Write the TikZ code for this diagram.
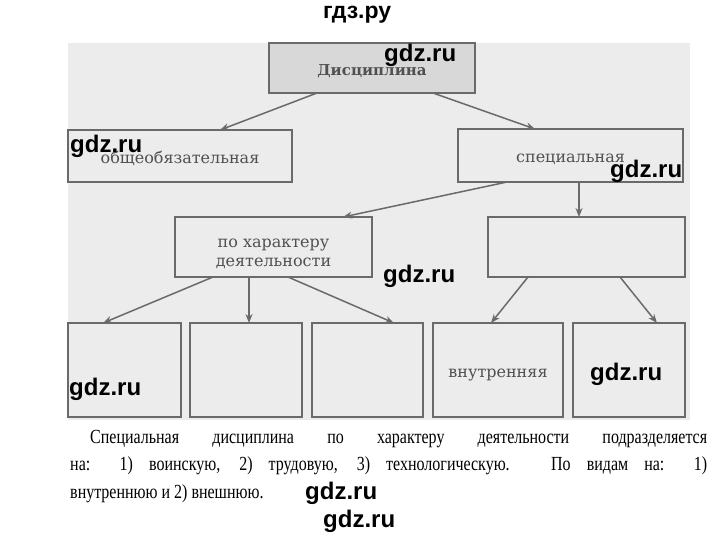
\documentclass[tikz,border=0pt]{standalone}
\usepackage{fontspec}
\setmainfont{Liberation Serif}
\newfontfamily\boxfont{DejaVu Serif}
\newfontfamily\markfont{Liberation Sans}
\newfontfamily\parafont[FakeStretch=0.8]{Liberation Serif}
\usetikzlibrary{arrows.meta,positioning}
\definecolor{panelgray}{HTML}{ECECEC}
\definecolor{headgray}{HTML}{D8D8D8}
\definecolor{linegray}{HTML}{6A6A6A}
\definecolor{labelgray}{HTML}{505050}

\begin{document}
\begin{tikzpicture}[
  x=1pt,y=-1pt,
  box/.style={draw=linegray,line width=1.6pt,inner sep=0pt,outer sep=0pt,align=center,
    text=labelgray,font=\boxfont\fontsize{16}{19}\selectfont},
  oneline/.style={text height=14pt,text depth=0pt},
  arr/.style={-{Stealth[length=9pt,width=7pt]},line width=1.5pt,draw=linegray},
  wmark/.style={anchor=base west,inner sep=0pt,font=\markfont\bfseries\fontsize{24}{24}\selectfont}
]
\useasboundingbox (0,0) rectangle (720,539);
\fill[panelgray] (68,43) rectangle (690,420);

\node[box,oneline,fill=headgray,minimum width=206pt,minimum height=50pt,font=\boxfont\bfseries\fontsize{15}{19}\selectfont] (disc) at (372,68) {Дисциплина};
\node[box,oneline,minimum width=224pt,minimum height=52pt] (general) at (180,156) {общеобязательная};
\node[box,oneline,minimum width=225pt,minimum height=53pt] (special) at (570.5,155.5) {специальная};
\node[box,minimum width=197pt,minimum height=60pt] (activity) at (273.5,247) {\rule{0pt}{22pt}по характеру\\деятельности};
\node[box,minimum width=197pt,minimum height=60pt] (kinds) at (586.5,247) {};
\node[box,minimum width=113pt,minimum height=94pt] (actA) at (124.5,370) {};
\node[box,minimum width=112pt,minimum height=94pt] (actB) at (246,370) {};
\node[box,minimum width=111pt,minimum height=94pt] (actC) at (367.5,370) {};
\node[box,oneline,minimum width=130pt,minimum height=94pt] (inner) at (498,370) {внутренняя};
\node[box,minimum width=112pt,minimum height=94pt] (outer) at (629,370) {};

\draw[arr] ([xshift=-55pt]disc.south) -- ([xshift=40pt]general.north);
\draw[arr] ([xshift=61pt]disc.south) -- ([xshift=-35.5pt]special.north);
\draw[arr] ([xshift=-63.5pt]special.south) -- ([xshift=69.5pt]activity.north);
\draw[arr] ([xshift=8.5pt]special.south) -- ([xshift=-7.5pt]kinds.north);
\draw[arr] ([xshift=-60.5pt]activity.south) -- ([xshift=-21.5pt]actA.north);
\draw[arr] ([xshift=-24.5pt]activity.south) -- ([xshift=3pt]actB.north);
\draw[arr] ([xshift=14.5pt]activity.south) -- ([xshift=26.5pt]actC.north);
\draw[arr] ([xshift=-58.5pt]kinds.south) -- ([xshift=-7pt]inner.north);
\draw[arr] ([xshift=33.5pt]kinds.south) -- ([xshift=28pt]outer.north);

\node[anchor=north west,inner sep=0pt,text width=637pt,align=justify,
  font=\parafont\fontsize{20}{27.5}\selectfont] (answer) at (70,430)
  {\hspace*{20pt}Специальная дисциплина по характеру деятельности подразделяется\linebreak
   на: 1) воинскую, 2) трудовую, 3) технологическую. По видам на: 1)\linebreak
   внутреннюю и 2) внешнюю.};

\node[wmark,font=\markfont\bfseries\fontsize{23}{23}\selectfont] (wm0) at (323,18) {гдз.ру};
\node[wmark] (wm1) at (384,61) {gdz.ru};
\node[wmark] (wm2) at (70,152) {gdz.ru};
\node[wmark] (wm3) at (610,177) {gdz.ru};
\node[wmark] (wm4) at (383,282) {gdz.ru};
\node[wmark] (wm5) at (69,395) {gdz.ru};
\node[wmark] (wm6) at (590,380) {gdz.ru};
\node[wmark] (wm7) at (305,499) {gdz.ru};
\node[wmark] (wm8) at (323,527) {gdz.ru};
\end{tikzpicture}
\end{document}
